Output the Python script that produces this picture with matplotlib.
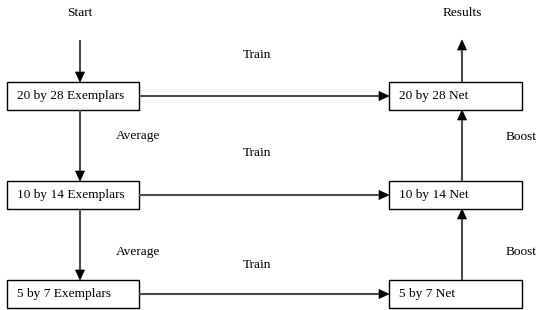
import matplotlib
matplotlib.use("Agg")
import matplotlib.pyplot as plt
from matplotlib.patches import Rectangle, Polygon

# Diagram content
left_labels = ["20 by 28 Exemplars", "10 by 14 Exemplars", "5 by 7 Exemplars"]
right_labels = ["20 by 28 Net", "10 by 14 Net", "5 by 7 Net"]
train_labels = ["Train", "Train", "Train"]
average_labels = ["Average", "Average"]
boost_labels = ["Boost", "Boost"]
start_label = "Start"
results_label = "Results"

W, H = 544, 310
fig = plt.figure(figsize=(W / 100, H / 100), dpi=100)
ax = fig.add_axes([0, 0, 1, 1])
ax.set_xlim(0, W)
ax.set_ylim(H, 0)
ax.axis("off")

FS = 9.6
FAM = ["Liberation Serif", "DejaVu Serif"]

row_top = [82, 181, 280]
box_h = 28
lx0, lx1 = 7, 139
rx0, rx1 = 389, 522
lcx, rcx = 80, 462
line_col = "#4a4a4a"
HL, HW = 10, 4.5

def arrow(x0, y0, x1, y1):
    dx, dy = x1 - x0, y1 - y0
    L = (dx * dx + dy * dy) ** 0.5
    ux, uy = dx / L, dy / L
    bx, by = x1 - ux * HL, y1 - uy * HL
    ax.plot([x0, bx], [y0, by], color=line_col, lw=1.5, solid_capstyle="butt")
    px, py = -uy, ux
    ax.add_patch(Polygon([(x1, y1), (bx + px * HW, by + py * HW), (bx - px * HW, by - py * HW)],
                         closed=True, fc="black", ec="black", lw=0.5))

for i, (ll, rl) in enumerate(zip(left_labels, right_labels)):
    t = row_top[i]
    ax.add_patch(Rectangle((lx0, t), lx1 - lx0, box_h, fill=False, ec="black", lw=1.0))
    ax.add_patch(Rectangle((rx0, t), rx1 - rx0, box_h, fill=False, ec="black", lw=1.0))
    ax.text(lx0 + 10, t + box_h / 2, ll, ha="left", va="center", fontsize=FS, family=FAM)
    ax.text(rx0 + 10, t + box_h / 2, rl, ha="left", va="center", fontsize=FS, family=FAM)
    arrow(lx1, t + box_h / 2, rx0, t + box_h / 2)

# Start and Results
ax.text(lcx, 13, start_label, ha="center", va="center", fontsize=FS, family=FAM)
ax.text(rcx, 13, results_label, ha="center", va="center", fontsize=FS, family=FAM)
arrow(lcx, 40, lcx, row_top[0])
arrow(rcx, row_top[0], rcx, 40)

# Vertical arrows
for i in range(2):
    arrow(lcx, row_top[i] + box_h, lcx, row_top[i + 1])
    arrow(rcx, row_top[i + 1], rcx, row_top[i] + box_h)

# Labels
train_y = [55, 153, 265]
for lab, y in zip(train_labels, train_y):
    ax.text(257, y, lab, ha="center", va="center", fontsize=FS, family=FAM)
avg_y = [136, 252]
for lab, y in zip(average_labels, avg_y):
    ax.text(116, y, lab, ha="left", va="center", fontsize=FS, family=FAM)
boost_y = [137, 252]
for lab, y in zip(boost_labels, boost_y):
    ax.text(506, y, lab, ha="left", va="center", fontsize=FS, family=FAM)

fig.savefig("out.png", dpi=100)
